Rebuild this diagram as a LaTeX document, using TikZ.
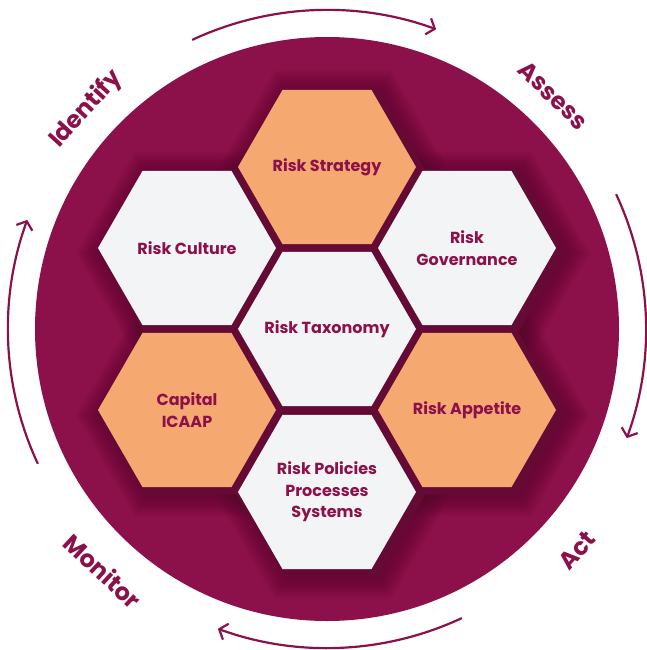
\documentclass[tikz,border=0pt]{standalone}
\usepackage{fontspec}
\setmainfont{Poppins}
\usetikzlibrary{arrows.meta}
\definecolor{mr}{HTML}{8C1049}
\definecolor{dk}{HTML}{650A34}
\definecolor{sh}{HTML}{4A0626}
\definecolor{org}{HTML}{F5A86F}
\definecolor{lt}{HTML}{F3F4F6}
\pgfdeclarelayer{bg}
\pgfsetlayers{bg,main}
\tikzset{
  hextext/.style={text=mr, align=center, inner sep=1pt, font=\bfseries\fontsize{16}{21.5}\selectfont},
  lbl/.style={text=mr, font=\bfseries\fontsize{24}{27}\selectfont, inner sep=0pt},
  cyc/.style={draw=mr, line width=2.2pt, -{Straight Barb[length=7pt,width=17pt]}}
}
\begin{document}
\begin{tikzpicture}[x=1pt,y=-1pt]
\useasboundingbox (0,0) rectangle (646,650);
\coordinate (c) at (327,329);
% hexagon texts
\node[hextext] (tax) at (327,329) {Risk Taxonomy};
\node[hextext] (str) at (327,167) {Risk Strategy};
\node[hextext] (pol) at (327,492) {Risk Policies\\Processes\\Systems};
\node[hextext] (cul) at (187,248) {Risk Culture};
\node[hextext] (gov) at (467,248) {Risk\\Governance};
\node[hextext] (cap) at (187,410) {Capital\\ICAAP};
\node[hextext] (app) at (467,410) {Risk Appetite};
% circle and hexagon shapes behind the texts
\begin{pgfonlayer}{bg}
\fill[mr] (c) circle[radius=292pt];
\foreach \k in {14,13,...,1} {
  \pgfmathsetmacro\rr{92+1.8*\k}
  \foreach \n in {tax,str,pol,cul,gov,cap,app}
    \fill[sh, fill opacity=0.043] (\n.center) ++(6,5) +(0:\rr pt) -- +(60:\rr pt) -- +(120:\rr pt) -- +(180:\rr pt) -- +(240:\rr pt) -- +(300:\rr pt) -- cycle;
}
\foreach \n in {tax,str,pol,cul,gov,cap,app}
  \fill[dk] (\n.center) ++(4,3) +(0:94pt) -- +(60:94pt) -- +(120:94pt) -- +(180:94pt) -- +(240:94pt) -- +(300:94pt) -- cycle;
\foreach \n in {str,cap,app}
  \fill[org] (\n.center) +(0:89pt) -- +(60:89pt) -- +(120:89pt) -- +(180:89pt) -- +(240:89pt) -- +(300:89pt) -- cycle;
\foreach \n in {tax,pol,cul,gov}
  \fill[lt] (\n.center) +(0:89pt) -- +(60:89pt) -- +(120:89pt) -- +(180:89pt) -- +(240:89pt) -- +(300:89pt) -- cycle;
\end{pgfonlayer}
% labels
\node[lbl, rotate=47.6] (idf) at ([shift={(137.6:326pt)}]c) {Identify};
\node[lbl, rotate=-44.1] (ass) at ([shift={(45.9:325pt)}]c) {Assess};
\node[lbl, rotate=48.5] (act) at ([shift={(-41.5:334pt)}]c) {Act};
\node[lbl, rotate=-42.8] (mon) at ([shift={(-132.8:330pt)}]c) {Monitor};
% cycle arrows
\draw[cyc] ([shift={(115:319pt)}]c) arc[start angle=115, end angle=70, radius=319pt];
\draw[cyc] ([shift={(25:319pt)}]c) arc[start angle=25, end angle=-20, radius=319pt];
\draw[cyc] ([shift={(-65:319pt)}]c) arc[start angle=-65, end angle=-110, radius=319pt];
\draw[cyc] ([shift={(205:319pt)}]c) arc[start angle=205, end angle=160, radius=319pt];
\end{tikzpicture}
\end{document}
